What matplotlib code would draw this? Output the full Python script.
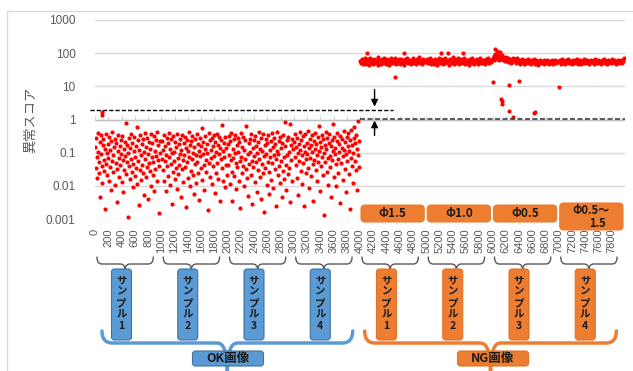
import numpy as np
import matplotlib
matplotlib.use("Agg")
import matplotlib.pyplot as plt
from matplotlib.patches import FancyBboxPatch, Rectangle, PathPatch
from matplotlib.path import Path

plt.rcParams['font.family'] = ['Noto Sans CJK JP', 'DejaVu Sans']

# anomaly scores (log10), OK images: sample 1..4, each over a 1000-image range
ok_s1 = [-0.82, -1.47, -0.55, -1.13, -1.76, -0.41, -0.97, -1.62, -1.28, -0.69, -2.34, -1.05, -0.48, -1.39, -1.91, -0.77,
         -0.60, -1.21, -1.55, -0.88, -2.71, -1.34, -0.44, -1.02, -1.68, -0.73, -1.17, -1.84, -0.52, -0.93, -1.43, -2.12,
         -0.65, -1.26, -0.39, -1.59, -1.08, -0.84, -1.97, -0.58, -1.31, -0.71, -1.49, -2.48, -0.95, -0.46, -1.15, -1.73,
         -0.80, -1.37, -0.62, -1.04, -1.87, -0.50, -1.23, -2.20, -0.90, -1.53, -0.67, -1.10, -0.12, -1.65, -1.29, -0.76,
         -2.95, -1.00, -0.57, -1.41, -1.80, -0.86, -1.19, -0.43, -1.58, -0.70, -2.05, -1.33, -0.96, -0.53, -1.70, -1.12,
         -0.79, -1.45, -0.22, -1.95, -0.63, -1.25, -2.58, -0.91, -1.51, -0.47, -1.07, -1.82, -0.74, -1.36, -0.60, -1.60,
         -2.27, -0.99, -0.42, -1.18, -1.74, -0.83, -1.42, -0.56, -1.03, -2.40, -1.30, -0.68, -1.56, -0.89, -1.99, -0.45,
         -1.14, -0.72, -1.67, -1.27, -0.51, -2.15, -0.94, -1.48, -0.61, -1.09, -1.85, -0.38, -1.22, -0.78, -2.83, -1.40,
         -0.66, -1.01]
ok_s2 = [-1.18, -0.64, -1.52, -0.93, -1.84, -0.47, -1.26, -0.79, -2.17, -1.06, -0.56, -1.41, -1.71, -0.72, -1.13, -0.40,
         -1.97, -0.88, -1.33, -0.60, -2.56, -1.02, -1.59, -0.50, -0.97, -1.24, -1.79, -0.68, -1.45, -0.83, -2.09, -0.43,
         -1.16, -1.64, -0.75, -1.37, -0.58, -1.03, -2.33, -0.91, -1.50, -0.46, -1.21, -1.88, -0.70, -1.08, -0.53, -1.43,
         -2.63, -0.86, -1.29, -0.62, -1.75, -0.95, -0.38, -1.14, -2.00, -0.77, -1.55, -0.66, -1.19, -0.49, -1.68, -1.00,
         -2.26, -0.84, -1.35, -0.59, -1.07, -1.90, -0.44, -1.27, -0.73, -1.61, -0.96, -2.42, -0.55, -1.11, -1.47, -0.80,
         -0.25, -1.82, -1.04, -0.67, -1.38, -2.12, -0.89, -0.51, -1.23, -1.57, -0.74, -1.01, -2.72, -0.42, -1.30, -0.63,
         -1.73, -0.92, -1.15, -0.57, -1.94, -0.81, -1.40, -0.48, -1.09, -2.22, -0.69, -1.62, -0.99, -0.45, -1.32, -0.76,
         -1.78, -1.05, -0.54, -2.47, -0.87, -1.20, -0.61, -1.46, -0.18, -1.86, -0.94, -1.12, -0.71, -2.04, -0.52, -1.36,
         -0.85, -1.66]
ok_s3 = [-0.74, -1.36, -0.51, -1.08, -1.93, -0.66, -1.22, -0.42, -1.57, -2.46, -0.89, -1.15, -0.60, -1.71, -1.02, -0.47,
         -1.30, -2.11, -0.78, -1.44, -0.56, -0.97, -1.85, -0.69, -1.26, -2.67, -0.40, -1.12, -1.60, -0.83, -1.39, -0.53,
         -2.02, -0.92, -1.18, -0.63, -1.49, -0.21, -1.77, -1.05, -2.31, -0.72, -1.33, -0.58, -0.99, -1.66, -0.45, -1.24,
         -2.55, -0.86, -1.42, -0.61, -1.09, -1.89, -0.50, -1.28, -0.79, -2.18, -1.00, -0.67, -1.53, -0.38, -1.19, -1.74,
         -0.88, -2.39, -0.55, -1.35, -0.96, -1.62, -0.44, -1.10, -2.78, -0.76, -1.46, -0.59, -1.03, -1.97, -0.70, -1.27,
         -0.48, -1.58, -2.24, -0.91, -1.14, -0.64, -1.81, -0.41, -1.32, -0.84, -2.06, -1.06, -0.57, -1.50, -0.73, -1.20,
         -2.60, -0.94, -0.37, -1.68, -1.04, -0.65, -1.40, -1.92, -0.52, -0.87, -1.25, -2.35, -0.71, -1.55, -0.46, -1.13,
         -1.79, -0.81, -0.08, -1.37, -2.14, -0.62, -1.07, -1.64, -0.54, -0.98, -1.45, -0.15, -2.50, -0.77, -1.21, -0.60,
         -1.86, -0.90]
ok_s4 = [-0.68, -1.12, -0.45, -1.37, -0.83, -1.76, -0.57, -1.01, -2.28, -0.74, -1.24, -0.39, -0.92, -1.55, -0.63, -1.08,
         -1.93, -0.50, -1.30, -0.79, -2.60, -0.97, -0.43, -1.19, -1.62, -0.70, -1.04, -0.34, -1.45, -0.86, -2.07, -0.59,
         -1.15, -0.77, -1.70, -0.48, -0.99, -1.33, -2.45, -0.65, -1.21, -0.41, -0.88, -1.51, -0.73, -1.06, -1.86, -0.53,
         -1.27, -0.19, -0.94, -2.17, -0.67, -1.40, -0.82, -0.46, -1.14, -1.66, -0.60, -1.00, -2.88, -0.76, -1.28, -0.37,
         -0.90, -1.58, -0.55, -1.17, -1.98, -0.71, -0.44, -1.09, -1.43, -0.80, -2.35, -0.62, -1.23, -0.14, -0.96, -1.73,
         -0.52, -1.05, -0.85, -1.35, -2.02, -0.66, -0.40, -1.20, -1.60, -0.75, -0.98, -2.52, -0.49, -1.31, -0.87, -0.58,
         -1.11, -1.81, -0.36, -0.93, -1.48, -0.69, -2.20, -1.03, -0.54, -1.26, -0.81, -0.42, -1.64, -0.95, -2.70, -0.61,
         -1.16, -0.33, -1.39, -0.78, -1.02, -1.90, -0.56, -0.24, -1.25, -0.72, -1.53, -0.47, -2.12, -0.89, -1.07, -0.05,
         -0.64, -1.44]

# anomaly scores (log10), NG images: Φ1.5, Φ1.0, Φ0.5, Φ0.5～1.5
ng_s1 = [1.76, 1.70, 1.82, 1.67, 1.79, 1.73, 1.86, 1.68, 1.77, 1.81, 1.64, 1.75, 1.84, 1.71, 1.78, 1.66, 1.74, 1.83,
         1.69, 1.80, 1.72, 1.87, 1.65, 1.76, 1.79, 1.68, 1.82, 1.74, 1.70, 1.85, 1.77, 1.67, 1.81, 1.73, 1.78, 1.64,
         1.75, 1.84, 1.71, 1.80, 1.69, 1.76, 1.86, 1.72, 1.67, 1.79, 1.74, 1.82, 1.68, 1.77, 1.83, 1.70, 1.75, 1.65,
         1.81, 1.73, 1.78, 1.85, 1.69, 1.76, 1.72, 1.80, 1.66, 1.74, 1.84, 1.71, 1.77, 1.79, 1.68, 1.82, 1.73, 1.75,
         1.87, 1.70, 1.78, 1.67, 1.81, 1.74, 1.76, 1.72]
ng_s2 = [1.74, 1.81, 1.69, 1.77, 1.85, 1.66, 1.72, 1.80, 1.75, 1.68, 1.83, 1.71, 1.78, 1.64, 1.76, 1.86, 1.70, 1.79,
         1.73, 1.82, 1.67, 1.75, 1.84, 1.69, 1.77, 1.72, 1.80, 1.65, 1.78, 1.83, 1.71, 1.74, 1.87, 1.68, 1.76, 1.81,
         1.70, 1.73, 1.85, 1.66, 1.79, 1.75, 1.82, 1.69, 1.72, 1.77, 1.84, 1.67, 1.74, 1.80, 1.71, 1.78, 1.65, 1.83,
         1.76, 1.70, 1.86, 1.73, 1.68, 1.79, 1.75, 1.81, 1.72, 1.66, 1.77, 1.84, 1.69, 1.74, 1.80, 1.71, 1.78, 1.67,
         1.82, 1.73, 1.76, 1.85, 1.70, 1.75, 1.79, 1.72]
ng_s3 = [1.85, 1.92, 1.80, 1.97, 1.88, 1.83, 1.95, 1.78, 1.90, 1.86, 1.82, 1.93, 1.79, 1.87, 1.84, 1.76, 1.89, 1.81,
         1.74, 1.85, 1.78, 1.83, 1.71, 1.80, 1.86, 1.75, 1.79, 1.82, 1.70, 1.77, 1.84, 1.73, 1.79, 1.68, 1.76, 1.81,
         1.72, 1.78, 1.66, 1.75, 1.80, 1.70, 1.77, 1.83, 1.69, 1.74, 1.79, 1.67, 1.76, 1.72, 1.81, 1.68, 1.75, 1.78,
         1.71, 1.65, 1.77, 1.73, 1.80, 1.69, 1.74, 1.76, 1.67, 1.79, 1.72, 1.70, 1.78, 1.75, 1.66, 1.73, 1.77, 1.71,
         1.80, 1.68, 1.75, 1.72, 1.78, 1.69, 1.74, 1.76]
ng_s4 = [1.73, 1.78, 1.68, 1.75, 1.81, 1.70, 1.76, 1.66, 1.79, 1.72, 1.74, 1.82, 1.69, 1.77, 1.71, 1.75, 1.67, 1.80,
         1.73, 1.78, 1.70, 1.76, 1.83, 1.68, 1.74, 1.72, 1.79, 1.66, 1.77, 1.71, 1.75, 1.81, 1.69, 1.73, 1.78, 1.70,
         1.76, 1.67, 1.74, 1.80, 1.72, 1.77, 1.68, 1.75, 1.82, 1.71, 1.73, 1.79, 1.69, 1.76, 1.74, 1.66, 1.78, 1.72,
         1.75, 1.81, 1.70, 1.77, 1.68, 1.74, 1.79, 1.71, 1.76, 1.73, 1.83, 1.69, 1.75, 1.78, 1.72, 1.67, 1.77, 1.74,
         1.80, 1.70, 1.76, 1.73, 1.79, 1.71, 1.75, 1.84]

# isolated points (image no., log10 score)
extra_x = [100, 110, 4100, 4525, 4660, 5220, 5330, 5550, 6003, 6040, 6070, 6120, 6130, 6139, 6150, 6244, 6250,
           6305, 6395, 6620, 6645, 6998]
extra_y = [0.15, 0.24, 2.00, 1.27, 2.02, 1.99, 2.01, 2.00, 1.12, 2.14, 2.08, 2.04, 0.62, 0.48, 0.55, 1.03, 0.27,
           0.09, 1.15, 0.20, 0.24, 0.97]

sample_starts = [0, 1000, 2000, 3000, 4000, 5000, 6000, 7000]
phi_labels = ['Φ1.5', 'Φ1.0', 'Φ0.5', ('Φ0.5～', '1.5')]
ok_threshold = 2.0
ng_threshold = 1.05

W, H = 633, 371
fig = plt.figure(figsize=(W / 100, H / 100), dpi=100)
ax = fig.add_axes([95 / W, 1 - 219 / H, 530 / W, 199 / H])

samples = [ok_s1, ok_s2, ok_s3, ok_s4, ng_s1, ng_s2, ng_s3, ng_s4]
for start, vals in zip(sample_starts, samples):
    v = np.array(vals)
    x = start + 5 + np.arange(len(v)) * 990 / len(v)
    ax.scatter(x, 10 ** v, s=9, c='#ff0000', linewidths=0, zorder=3)
ax.scatter(extra_x, 10 ** np.array(extra_y), s=9, c='#ff0000', linewidths=0, zorder=3)

ax.set_yscale('log')
ax.set_ylim(1e-3, 1e3)
ax.set_xlim(0, 8000)
yt = [0.001, 0.01, 0.1, 1, 10, 100, 1000]
ax.set_yticks(yt)
ax.set_yticklabels(['0.001', '0.01', '0.1', '1', '10', '100', '1000'], fontfamily='Liberation Sans',
                   fontsize=8.5, color='#595959')
ax.yaxis.set_minor_locator(matplotlib.ticker.NullLocator())
xt = np.arange(0, 8000, 200)
ax.set_xticks(xt)
ax.set_xticklabels([str(t) for t in xt], rotation=90, fontfamily='Liberation Sans', fontsize=8, color='#595959')
ax.tick_params(axis='both', length=0)
ax.tick_params(axis='y', pad=14)
ax.tick_params(axis='x', pad=7)
for s in ax.spines.values():
    s.set_visible(False)
ax.grid(axis='y', color='#d9d9d9', lw=1)
ax.set_axisbelow(True)
ax.patch.set_alpha(0)

# horizontal axis crossing at 1 with its tick marks
ax.axhline(1, color='#bfbfbf', lw=1, zorder=1)
ax.vlines(np.arange(0, 8001, 200), 1, 1.25, color='#d0d0d0', lw=0.8, zorder=1)

# thresholds
ax.plot([-80, 4500], [ok_threshold, ok_threshold], ls=(0, (3, 1.5)), color='black', lw=1, clip_on=False, zorder=4)
ax.plot([4000, 8000], [ng_threshold, ng_threshold], ls=(0, (3, 1.5)), color='#404040', lw=1.2, zorder=4)
arr = dict(arrowstyle='-|>', color='black', lw=1, mutation_scale=10, shrinkA=0, shrinkB=0)
ax.annotate('', xy=(4220, 2.45), xytext=(4220, 8.0), arrowprops=arr)
ax.annotate('', xy=(4220, 0.93), xytext=(4220, 0.33), arrowprops=arr)

fig.text(30 / W, 1 - 120 / H, '異常スコア', rotation=90, ha='center', va='center', fontsize=9.5, color='#595959')

# overlay in pixel coordinates for annotations
ov = fig.add_axes([0, 0, 1, 1], zorder=5)
ov.set_xlim(0, W)
ov.set_ylim(H, 0)
ov.axis('off')
ov.patch.set_alpha(0)


def px(xd):
    return ax.transData.transform((xd, 1))[0]


def brace(x0, x1, yt, ym, yp, r, color, lw):
    xc = (x0 + x1) / 2
    verts = [(x0, yt), (x0, ym), (x0 + r, ym), (xc - r, ym), (xc, ym), (xc, yp), (xc, ym), (xc + r, ym),
             (x1 - r, ym), (x1, ym), (x1, yt)]
    codes = [Path.MOVETO, Path.CURVE3, Path.CURVE3, Path.LINETO, Path.CURVE3, Path.CURVE3, Path.CURVE3,
             Path.CURVE3, Path.LINETO, Path.CURVE3, Path.CURVE3]
    ov.add_patch(PathPatch(Path(verts, codes), fill=False, edgecolor=color, lw=lw, capstyle='round'))


def rbox(x0, y0, w, h, fc, ec, rs=3):
    ov.add_patch(FancyBboxPatch((x0, y0), w, h, boxstyle='round,pad=0,rounding_size=%g' % rs,
                                facecolor=fc, edgecolor=ec, lw=0.8))


ov.add_patch(Rectangle((7, 11), 640, 370, fill=False, edgecolor='#d9d9d9', lw=1))

blue, blue_e = '#5b9bd5', '#41719c'
orange, orange_e = '#ed7d31', '#e0732a'

for i, start in enumerate(sample_starts):
    fc, ec = (blue, blue_e) if i < 4 else (orange, orange_e)
    b0, b1 = px(start + 30), px(start + 880)
    brace(b0, b1, 257, 264, 270, 5, '#595959', 1)
    cx = px(start + 400)
    rbox(cx - 10, 269, 20, 71, fc, ec)
    for k, ch in enumerate(['サ', 'ン', 'プ', 'ル', str(i % 4 + 1)]):
        ov.text(cx, 280 + k * 11.6, ch, ha='center', va='center', fontsize=7.5, fontweight='bold', color='#1a1a1a')

# Φ callouts for NG samples
for j, lab in enumerate(phi_labels):
    start = sample_starts[4 + j]
    x0, x1 = px(start) + 1, px(start + 1000) - 2
    cx = (x0 + x1) / 2
    if isinstance(lab, tuple):
        rbox(x0, 203, x1 - x0, 27, orange, orange, rs=4)
        ov.text(cx, 211, lab[0], ha='center', va='center', fontsize=8, fontweight='bold', color='#1a1a1a')
        ov.text(cx + 6, 223.5, lab[1], ha='center', va='center', fontsize=8, fontweight='bold', color='#1a1a1a')
    else:
        rbox(x0, 205, x1 - x0, 17, orange, orange, rs=4)
        ov.text(cx, 213.5, lab, ha='center', va='center', fontsize=8.5, fontweight='bold', color='#1a1a1a')

# group braces and labels
for g0, g1, gc, fc, ec, lab in [(105, 3890, 2000, blue, blue_e, 'OK画像'),
                                (4070, 7870, 6000, orange, orange_e, 'NG画像')]:
    brace(px(g0), px(g1), 331, 343, 372, 10, fc, 2.5)
    cx = px(gc)
    rbox(cx - 35, 351, 71, 15, fc, ec)
    ov.text(cx, 358.5, lab, ha='center', va='center', fontsize=9, fontweight='bold', color='#1a1a1a')

fig.savefig('out.png', dpi=100)
